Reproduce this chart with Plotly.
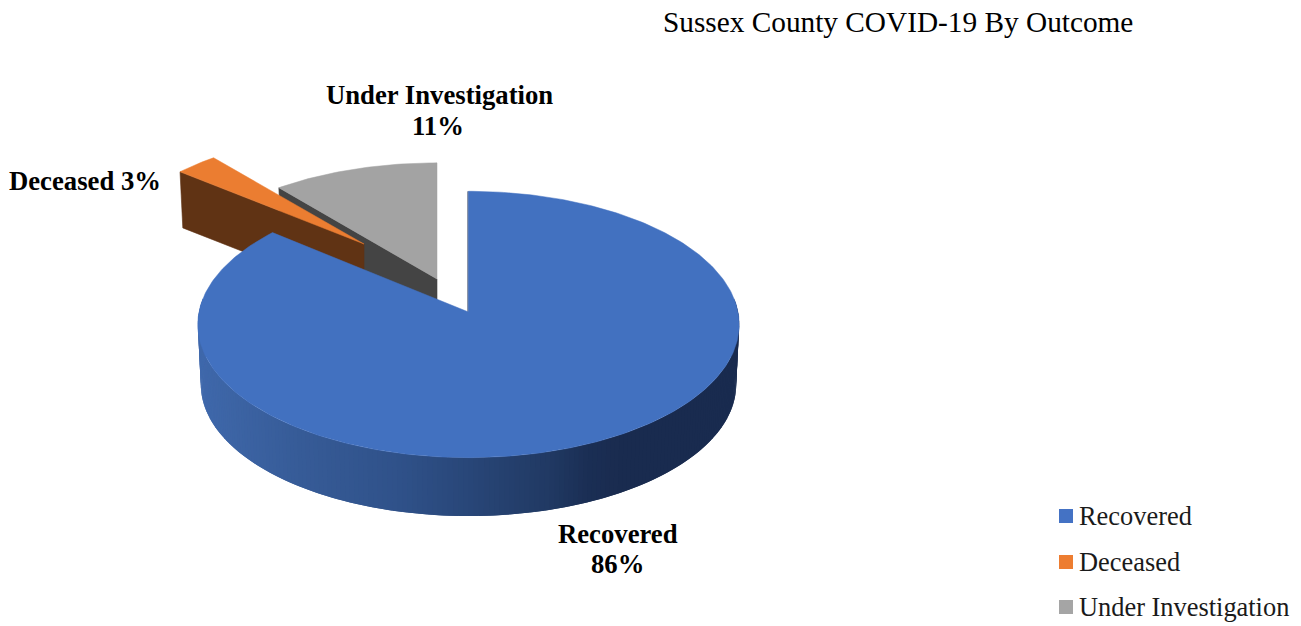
import numpy as np
import plotly.graph_objects as go

title = "Sussex County COVID-19 By Outcome"
categories = ["Recovered", "Deceased", "Under Investigation"]
values = [86, 3, 11]
legend_colors = ["#4472C4", "#ED7D31", "#A5A5A5"]
top_colors = ["#4271C0", "#EB7D31", "#A3A3A3"]
cut_colors = ["#1A2C50", "#603314", "#444444"]

# geometry of the perspective view (pixels): apex x, apex y, half width, half height
PERSP = 0.0936
DEPTH = 60
views = {
    "Recovered": (468.5, 312, 269.5, 132),
    "Deceased": (364, 244, 253, 120),
    "Under Investigation": (437, 279, 266, 127),
}
side_stops_x = [198, 300, 400, 470, 550, 590, 620, 740]
side_stops_rgb = [(64, 105, 172), (55, 92, 152), (48, 82, 138), (41, 71, 121), (33, 58, 100), (27, 47, 85),
                  (26, 44, 80), (25, 43, 79)]


def rim(view, th, scale=1.0, dy=0.0):
    ax, ay, a, b = view
    d = 1 + PERSP * np.cos(th)
    return ax + scale * a * np.sin(th) / d, ay + dy - scale * b * np.cos(th) / d


def span(f0, f1):
    n = max(int(abs(f1 - f0) * 400), 8)
    return np.linspace(f0, f1, n) * 2 * np.pi


fractions = np.array(values) / sum(values)
starts = np.concatenate([[0], np.cumsum(fractions)[:-1]])
ends = np.cumsum(fractions)

fig = go.Figure()


def poly(xs, ys, color, line=0.6):
    fig.add_trace(go.Scatter(x=list(xs), y=list(ys), mode="lines", fill="toself", fillcolor=color,
                             line=dict(color=color, width=line), hoverinfo="skip", showlegend=False))


for i in [2, 1, 0]:
    cat = categories[i]
    v = views[cat]
    th = span(starts[i], ends[i])
    # flat cut faces (exploded wedges only show theirs)
    if i != 0:
        x0, y0 = rim(v, th[0])
        x1, y1 = rim(v, th[0], 0.985, 55)
        poly([x0, v[0], v[0], x1, x0], [y0, v[1], v[1] + 55, y1, y0], cut_colors[i])
    else:
        # outer wall of the big wedge, shaded across its width
        edges = np.radians(np.linspace(84, 276, 193))
        for j in range(len(edges) - 1):
            seg = np.linspace(edges[j], edges[min(j + 2, len(edges) - 1)], 3)
            xt, yt = rim(v, seg)
            xb, yb = rim(v, seg, 0.989, DEPTH)
            mid = (xt[0] + xb[0]) / 2
            rgb = [np.interp(mid, side_stops_x, [c[k] for c in side_stops_rgb]) for k in range(3)]
            col = "rgb(%d,%d,%d)" % tuple(rgb)
            poly(np.r_[xt, xb[::-1]], np.r_[yt, yb[::-1]], col, 0)
        xs, ys = rim(v, th[0])
        fig.add_trace(go.Scatter(x=[v[0] - 0.5, xs - 0.5], y=[v[1], ys], mode="lines",
                                 line=dict(color=cut_colors[0], width=1), hoverinfo="skip", showlegend=False))
    xr, yr = rim(v, th)
    poly(np.r_[v[0], xr, v[0]], np.r_[v[1], yr, v[1]], top_colors[i], 0.5)

# legend, drawn to the original's tight swatch-to-text spacing
legend_y = [516, 562, 607]
for cat, col, ly in zip(categories, legend_colors, legend_y):
    fig.add_trace(go.Scatter(x=[1066], y=[ly], mode="markers", name=cat, showlegend=False, hoverinfo="skip",
                             marker=dict(symbol="square", size=14, color=col)))
    fig.add_annotation(x=1079, y=ly, text=cat, showarrow=False, xanchor="left", yanchor="middle",
                       xshift=-2, font=dict(family="Liberation Serif", size=26.4, color="#1a1a1a"))


def label(text, x, y):
    fig.add_annotation(x=x, y=y, text=f"<b>{text}</b>", showarrow=False, xanchor="center", yanchor="middle",
                       font=dict(family="Liberation Serif", size=26.7, color="#000000"))


label(categories[2], 439, 95)
label(f"{values[2]}%", 438, 126)
label(f"{categories[1]} {values[1]}%", 85, 181)
label(categories[0], 618, 534)
label(f"{values[0]}%", 617, 564)
fig.add_annotation(x=898, y=22, text=title, showarrow=False, xanchor="center", yanchor="middle",
                   font=dict(family="Liberation Serif", size=29.3, color="#000000"))

fig.update_layout(
    width=1301, height=626, margin=dict(l=0, r=0, t=0, b=0),
    paper_bgcolor="white", plot_bgcolor="white",
    xaxis=dict(range=[0, 1301], visible=False, fixedrange=True),
    yaxis=dict(range=[626, 0], visible=False, fixedrange=True),
    showlegend=False,
    hovermode=False,
)
fig.write_html("out.html", config={"displayModeBar": False},
               post_script="document.body.style.margin='0';document.documentElement.style.overflow='hidden';")
